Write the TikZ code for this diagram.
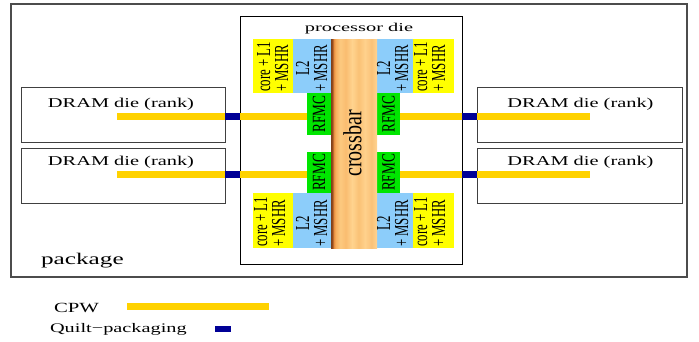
\documentclass[tikz,border=0pt]{standalone}
\usepackage{fontspec}
\setmainfont{Liberation Serif}
\usepackage{graphicx}
\definecolor{cpw}{RGB}{255,210,0}
\definecolor{qp}{RGB}{0,0,150}
\definecolor{coreY}{RGB}{255,255,0}
\definecolor{ltwo}{RGB}{140,205,250}
\definecolor{rfmcG}{RGB}{0,230,0}
\pgfdeclarehorizontalshading{wood}{100bp}{rgb(0bp)=(0.5,0.25,0.1); rgb(25bp)=(0.5,0.25,0.1); rgb(26.5bp)=(0.6,0.3,0.12); rgb(28bp)=(0.9,0.55,0.25); rgb(30bp)=(0.97,0.68,0.36); rgb(35bp)=(0.99,0.79,0.5); rgb(41bp)=(0.98,0.74,0.44); rgb(48bp)=(1,0.83,0.56); rgb(55bp)=(0.98,0.76,0.46); rgb(62bp)=(1,0.82,0.55); rgb(69bp)=(0.98,0.76,0.47); rgb(75bp)=(1,0.83,0.57); rgb(100bp)=(1,0.83,0.57)}
\begin{document}
\begin{tikzpicture}[x=1pt,y=-1pt,
  outline/.style={draw=black!75, line width=1pt, inner sep=0pt, outer sep=0pt, anchor=north west},
  solid box/.style={draw=none, inner sep=0pt, outer sep=0pt, anchor=north west},
  corebox/.style={solid box, fill=coreY},
  ltwobox/.style={solid box, fill=ltwo},
  rfmcbox/.style={solid box, fill=rfmcG, minimum width=24pt},
  rlabel/.style={rotate=90, inner xsep=1pt, inner ysep=0pt, anchor=west, font=\fontsize{12.8}{10.7}\selectfont},
  hlabel/.style={inner sep=0pt, anchor=base},
  cpwline/.style={draw=cpw, line width=6.5pt},
  qpline/.style={draw=qp, line width=7pt}]
\useasboundingbox (0,0) rectangle (699,341);
% outer boxes
\node[outline, draw=black!70, line width=1.3pt, minimum width=676pt, minimum height=273pt] (pkg) at (11,4) {};
\node[outline, minimum width=204pt, minimum height=55pt] (dl1) at (21,87) {};
\node[outline, minimum width=204pt, minimum height=55pt] (dl2) at (21,148) {};
\node[outline, minimum width=205pt, minimum height=55pt] (dr1) at (477,87) {};
\node[outline, minimum width=205pt, minimum height=55pt] (dr2) at (477,148) {};
\node[outline, draw=black, minimum width=222pt, minimum height=248pt] (proc) at (240,16) {};
% inner blocks
\node[corebox, minimum width=40pt, minimum height=54pt] (c1) at (253,39) {};
\node[ltwobox, minimum width=38pt, minimum height=54pt] (l1) at (293,39) {};
\node[ltwobox, minimum width=36pt, minimum height=54pt] (l2) at (377,39) {};
\node[corebox, minimum width=41pt, minimum height=54pt] (c2) at (413,39) {};
\node[corebox, minimum width=40pt, minimum height=55pt] (c3) at (253,193) {};
\node[ltwobox, minimum width=38pt, minimum height=55pt] (l3) at (293,193) {};
\node[ltwobox, minimum width=36pt, minimum height=55pt] (l4) at (377,193) {};
\node[corebox, minimum width=41pt, minimum height=55pt] (c4) at (413,193) {};
\node[rfmcbox, minimum height=42pt] (r1) at (307,93) {};
\node[rfmcbox, minimum height=41pt] (r3) at (307,152) {};
\node[rfmcbox, minimum width=23pt, minimum height=42pt] (r2) at (377,93) {};
\node[rfmcbox, minimum width=23pt, minimum height=41pt] (r4) at (377,152) {};
\node[solid box, shading=wood, minimum width=46pt, minimum height=209pt] (xbar) at (331,39) {};
% CPW + quilt packaging
\coordinate (s1) at (117,116.7);
\coordinate (s2) at (117,174.5);
\coordinate (s3) at (590,116.7);
\coordinate (s4) at (590,174.5);
\draw[cpwline] (s1) -- (r1.west |- s1);
\draw[cpwline] (s2) -- (r3.west |- s2);
\draw[cpwline] (r2.east |- s3) -- (s3);
\draw[cpwline] (r4.east |- s4) -- (s4);
\draw[qpline] (dl1.east |- s1) -- (proc.west |- s1);
\draw[qpline] (dl2.east |- s2) -- (proc.west |- s2);
\draw[qpline] (proc.east |- s3) -- (dr1.west |- s3);
\draw[qpline] (proc.east |- s4) -- (dr2.west |- s4);
% labels
\node[hlabel] (ptxt) at (359,31.3) {\fontsize{12}{14}\selectfont\scalebox{1.7}[1]{processor die}};
\node[hlabel] (dt1) at (121,107.7) {\fontsize{13.5}{16}\selectfont\scalebox{1.51}[1]{DRAM die (rank)}};
\node[hlabel] (dt2) at (121,165) {\fontsize{13.5}{16}\selectfont\scalebox{1.51}[1]{DRAM die (rank)}};
\node[hlabel] (dt3) at (580.5,107.7) {\fontsize{13.5}{16}\selectfont\scalebox{1.51}[1]{DRAM die (rank)}};
\node[hlabel] (dt4) at (580.5,165) {\fontsize{13.5}{16}\selectfont\scalebox{1.51}[1]{DRAM die (rank)}};
\node[hlabel] (pk) at (82.4,264.3) {\fontsize{16.3}{19}\selectfont\scalebox{1.55}[1]{package}};
\node[rlabel] (ct1) at (275,93) {\scalebox{1}[1.55]{\begin{tabular}{@{}l@{}}core + L1\\+ MSHR\end{tabular}}};
\node[rlabel] (ct2) at (432,93) {\scalebox{1}[1.55]{\begin{tabular}{@{}l@{}}core + L1\\+ MSHR\end{tabular}}};
\node[rlabel] (ct3) at (272,248) {\scalebox{1}[1.55]{\begin{tabular}{@{}l@{}}core + L1\\+ MSHR\end{tabular}}};
\node[rlabel] (ct4) at (432,248) {\scalebox{1}[1.55]{\begin{tabular}{@{}l@{}}core + L1\\+ MSHR\end{tabular}}};
\node[rlabel] (lt1) at (314,93) {\scalebox{1}[1.55]{\begin{tabular}{@{}c@{}}L2\\+ MSHR\end{tabular}}};
\node[rlabel] (lt2) at (395,93) {\scalebox{1}[1.55]{\begin{tabular}{@{}c@{}}L2\\+ MSHR\end{tabular}}};
\node[rlabel] (lt3) at (314,248) {\scalebox{1}[1.55]{\begin{tabular}{@{}c@{}}L2\\+ MSHR\end{tabular}}};
\node[rlabel] (lt4) at (395,248) {\scalebox{1}[1.55]{\begin{tabular}{@{}c@{}}L2\\+ MSHR\end{tabular}}};
\node[rotate=90, inner sep=0pt, font=\fontsize{13.3}{15}\selectfont] (rt1) at (r1.center) {\scalebox{1}[1.4]{RFMC}};
\node[rotate=90, inner sep=0pt, font=\fontsize{13.3}{15}\selectfont] (rt2) at (r2.center) {\scalebox{1}[1.4]{RFMC}};
\node[rotate=90, inner sep=0pt, font=\fontsize{13.3}{15}\selectfont] (rt3) at (r3.center) {\scalebox{1}[1.4]{RFMC}};
\node[rotate=90, inner sep=0pt, font=\fontsize{13.3}{15}\selectfont] (rt4) at (r4.center) {\scalebox{1}[1.4]{RFMC}};
\node[rotate=90, inner sep=0pt, font=\fontsize{20}{24}\selectfont] (xt) at ([xshift=-1.5pt]xbar.center) {\scalebox{1}[1.3]{crossbar}};
% legend
\coordinate (la) at (127,306.3);
\coordinate (lb) at (269,306.3);
\draw[cpwline] (la) -- (lb);
\node[fill=qp, inner sep=0pt, minimum width=16pt, minimum height=6pt] (qpkey) at (223,329) {};
\node[hlabel] (cpwt) at (76.5,312.7) {\fontsize{14}{16}\selectfont\scalebox{1.48}[1]{CPW}};
\node[hlabel] (qpt) at (118.4,332) {\fontsize{13.1}{15}\selectfont\scalebox{1.55}[1]{Quilt−packaging}};
\end{tikzpicture}
\end{document}
